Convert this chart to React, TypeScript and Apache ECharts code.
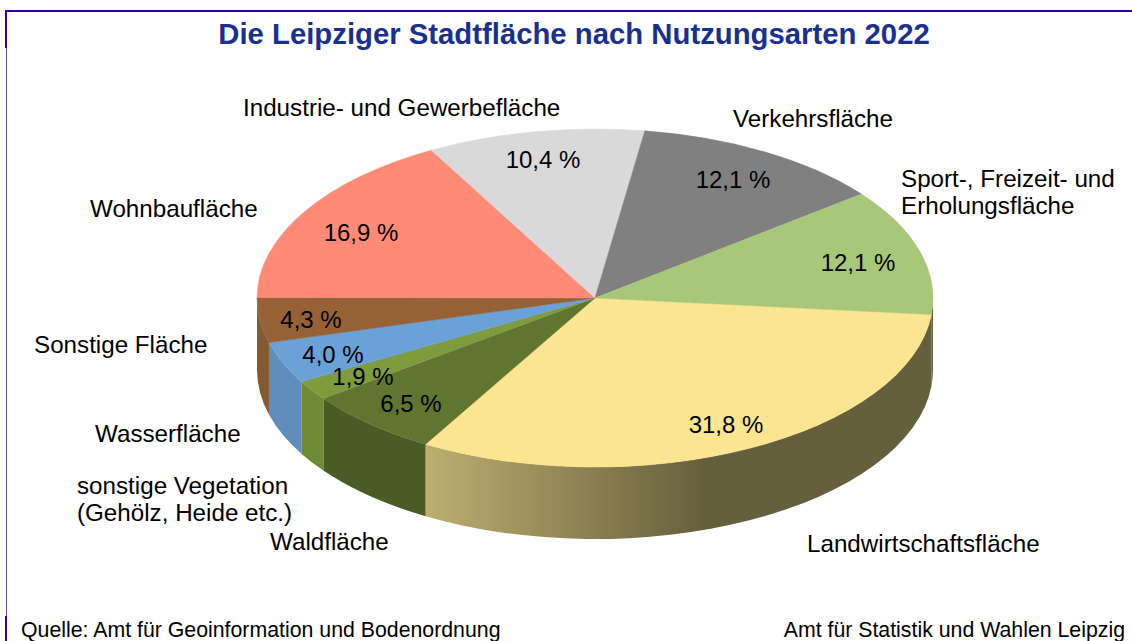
import React, { useEffect, useRef } from "react";
import * as echarts from "echarts";

const titleText = "Die Leipziger Stadtfläche nach Nutzungsarten 2022";
const sourceText = "Quelle: Amt für Geoinformation und Bodenordnung";
const authorText = "Amt für Statistik und Wahlen Leipzig";

// clockwise, beginning just below the 3 o'clock position
const categories = [
  "Landwirtschaftsfläche",
  "Waldfläche",
  "sonstige Vegetation\n(Gehölz, Heide etc.)",
  "Wasserfläche",
  "Sonstige Fläche",
  "Wohnbaufläche",
  "Industrie- und Gewerbefläche",
  "Verkehrsfläche",
  "Sport-, Freizeit- und\nErholungsfläche",
];
const shares = [31.8, 6.5, 1.9, 4.0, 4.3, 16.9, 10.4, 12.1, 12.1];
const topColors = ["#fbe591", "#5f7530", "#7e9c3e", "#6aa2d8", "#956135", "#ff8b77", "#d9d9d9", "#808080", "#a9c779"];
const sideColors = ["#665f3c", "#4a5c26", "#6f8a35", "#5f8ebc", "#835b30", "#a8604f", "#999999", "#5a5a5a", "#66603c"];

const percentCentres = [
  [726, 424], [411, 403], [363, 376], [333, 354], [311, 319],
  [361, 232], [543, 159], [733, 179], [858, 262],
];
const nameAnchors = [
  [807, 543], [270, 541], [77, 498.5], [95, 433], [34, 344],
  [90, 208], [243, 107], [733, 118], [901, 191.5],
];

const CX = 595, CY = 298, RX = 338, RY = 169, DEPTH = 72;
const START_DEG = 5.6;
const FONT = '"Liberation Sans", Arial, sans-serif';

const total = shares.reduce((a, b) => a + b, 0);
const rad = (d: number) => (d * Math.PI) / 180;
const angleAt = (i: number) =>
  START_DEG + (shares.slice(0, i).reduce((a, b) => a + b, 0) / total) * 360;
const pt = (deg: number, dy = 0) =>
  `${(CX + RX * Math.cos(rad(deg))).toFixed(2)} ${(CY + dy + RY * Math.sin(rad(deg))).toFixed(2)}`;

function topPath(a: number, b: number) {
  return `M ${CX} ${CY} L ${pt(a)} A ${RX} ${RY} 0 ${b - a > 180 ? 1 : 0} 1 ${pt(b)} Z`;
}
function sidePath(a: number, b: number) {
  return (
    `M ${pt(a)} A ${RX} ${RY} 0 0 1 ${pt(b)} L ${pt(b, DEPTH)} ` +
    `A ${RX} ${RY} 0 0 0 ${pt(a, DEPTH)} Z`
  );
}

export default function App() {
  const ref = useRef<HTMLDivElement>(null);
  useEffect(() => {
    document.body.style.margin = "0";
    const chart = echarts.init(ref.current!, null, { renderer: "svg" });

    const renderSide = (params: any) => {
      const i = params.dataIndex;
      const parts: Array<[number, number, any]> = [];
      const a = angleAt(i);
      const b = angleAt(i + 1);
      // the wall of a slice shows only along the front half of the ellipse
      const ranges = [[a, b], [a - 360, b - 360]];
      for (const [s, e] of ranges) {
        const from = Math.max(s, 0);
        const to = Math.min(e, 180);
        if (to > from) {
          let fill: any = sideColors[i];
          if (i === 0) {
            fill = new echarts.graphic.LinearGradient(
              426, 0, 705, 0,
              [
                { offset: 0, color: "#bdae70" },
                { offset: 1, color: sideColors[i] },
              ],
              true
            );
          }
          parts.push([from, to, fill]);
        }
      }
      return {
        type: "group",
        children: parts.map(([from, to, fill]) => ({
          type: "path",
          shape: { pathData: sidePath(from, to) },
          style: { fill, stroke: null },
        })),
      };
    };

    const renderTop = (params: any) => {
      const i = params.dataIndex;
      return {
        type: "path",
        shape: { pathData: topPath(angleAt(i), angleAt(i + 1)) },
        style: { fill: topColors[i], stroke: topColors[i], lineWidth: 0.5 },
      };
    };

    const renderPercent = (params: any, api: any) => {
      const i = params.dataIndex;
      return {
        type: "text",
        x: percentCentres[i][0],
        y: percentCentres[i][1],
        style: {
          text: `${api.value(0).toFixed(1).replace(".", ",")} %`,
          fill: "#000",
          font: `24px ${FONT}`,
          align: "center",
          verticalAlign: "middle",
        },
      };
    };

    const text = (t: string, x: number, y: number, font: string, fill: string, align = "left", lineHeight?: number) => ({
      type: "text",
      x,
      y,
      silent: true,
      style: { text: t, font, fill, align, verticalAlign: "middle", lineHeight },
    });

    chart.setOption({
      animation: false,
      backgroundColor: "#fff",
      series: [
        { type: "custom", coordinateSystem: "none", data: shares, renderItem: renderSide, z: 2, silent: true },
        { type: "custom", coordinateSystem: "none", data: shares, renderItem: renderTop, z: 3, silent: true },
        { type: "custom", coordinateSystem: "none", data: shares, renderItem: renderPercent, z: 4, silent: true },
      ],
      graphic: [
        { type: "rect", shape: { x: 5, y: 10, width: 1127, height: 2 }, style: { fill: "#330099" }, silent: true },
        { type: "rect", shape: { x: 5, y: 10, width: 2, height: 38 }, style: { fill: "#330099" }, silent: true },
        { type: "rect", shape: { x: 6, y: 48, width: 1, height: 568 }, style: { fill: "#5a5a8c" }, silent: true },
        { type: "rect", shape: { x: 5, y: 616, width: 2, height: 25 }, style: { fill: "#330099" }, silent: true },
        text(titleText, 574, 33, `bold 29.3px ${FONT}`, "#1a3090", "center"),
        ...categories.map((c, i) =>
          text(c, nameAnchors[i][0], nameAnchors[i][1], `24.2px ${FONT}`, "#000", "left", 27)
        ),
        text(sourceText, 21, 629.5, `21.3px ${FONT}`, "#000"),
        text(authorText, 1125, 629.5, `21.3px ${FONT}`, "#000", "right"),
      ],
    });
    return () => chart.dispose();
  }, []);
  return (
    <div
      ref={ref}
      style={{ position: "fixed", left: 0, top: 0, width: 1132, height: 641, overflow: "hidden" }}
    />
  );
}
